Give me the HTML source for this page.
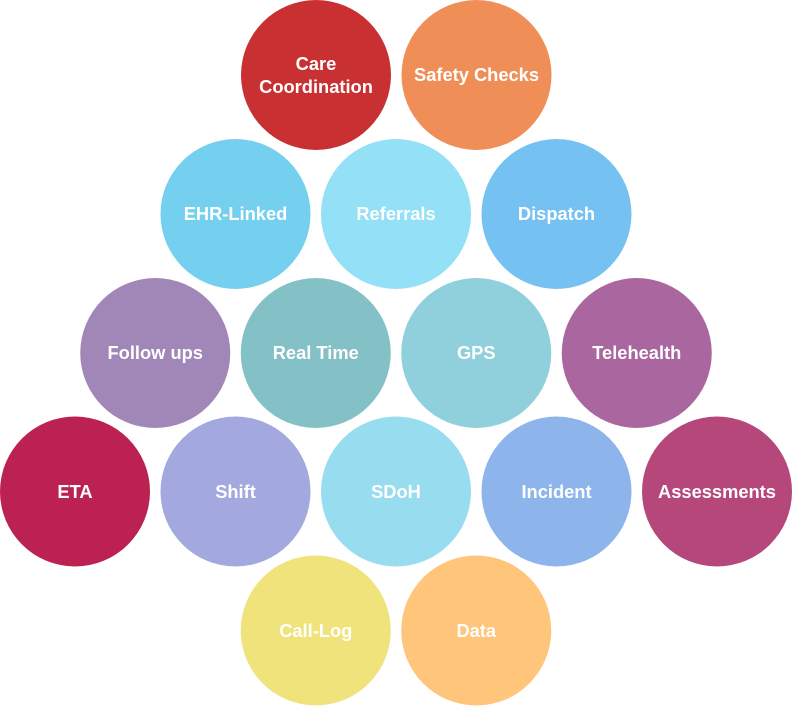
<!DOCTYPE html>
<html>
<head>
<meta charset="utf-8">
<style>
html,body{margin:0;padding:0;background:#fff;}
svg{display:block;}
text{font-family:"Liberation Sans",sans-serif;font-weight:bold;font-size:18.3px;fill:#fff;text-anchor:middle;}
</style>
</head>
<body>
<svg width="793" height="706" viewBox="0 0 793 706" xmlns="http://www.w3.org/2000/svg">
<!-- Row 1 -->
<circle cx="316" cy="75" r="75" fill="#C93032"/>
<text x="316" y="70">Care</text>
<text x="316" y="93">Coordination</text>
<circle cx="476.5" cy="75" r="75" fill="#F08E57"/>
<text x="476.5" y="81">Safety Checks</text>
<!-- Row 2 -->
<circle cx="235.5" cy="214" r="75" fill="#74D0EE"/>
<text x="235.5" y="220">EHR-Linked</text>
<circle cx="396" cy="214" r="75" fill="#94E0F6"/>
<text x="396" y="220">Referrals</text>
<circle cx="556.5" cy="214" r="75" fill="#75C1F1"/>
<text x="556.5" y="220">Dispatch</text>
<!-- Row 3 -->
<circle cx="155.25" cy="353" r="75" fill="#A087B7"/>
<text x="155.25" y="359">Follow ups</text>
<circle cx="315.75" cy="353" r="75" fill="#84C1C7"/>
<text x="315.75" y="359">Real Time</text>
<circle cx="476.25" cy="353" r="75" fill="#8FD0DC"/>
<text x="476.25" y="359">GPS</text>
<circle cx="636.75" cy="353" r="75" fill="#AA669F"/>
<text x="636.75" y="359">Telehealth</text>
<!-- Row 4 -->
<circle cx="75" cy="491.5" r="75" fill="#BB2251"/>
<text x="75" y="498">ETA</text>
<circle cx="235.5" cy="491.5" r="75" fill="#A3A8DF"/>
<text x="235.5" y="498">Shift</text>
<circle cx="396" cy="491.5" r="75" fill="#98DDEF"/>
<text x="396" y="498">SDoH</text>
<circle cx="556.5" cy="491.5" r="75" fill="#8DB5EC"/>
<text x="556.5" y="498">Incident</text>
<circle cx="717" cy="491.5" r="75" fill="#B6477B"/>
<text x="717" y="498">Assessments</text>
<!-- Row 5 -->
<circle cx="315.75" cy="630.5" r="75" fill="#F0E37C"/>
<text x="315.75" y="637">Call-Log</text>
<circle cx="476.25" cy="630.5" r="75" fill="#FEC57B"/>
<text x="476.25" y="637">Data</text>
</svg>
</body>
</html>
